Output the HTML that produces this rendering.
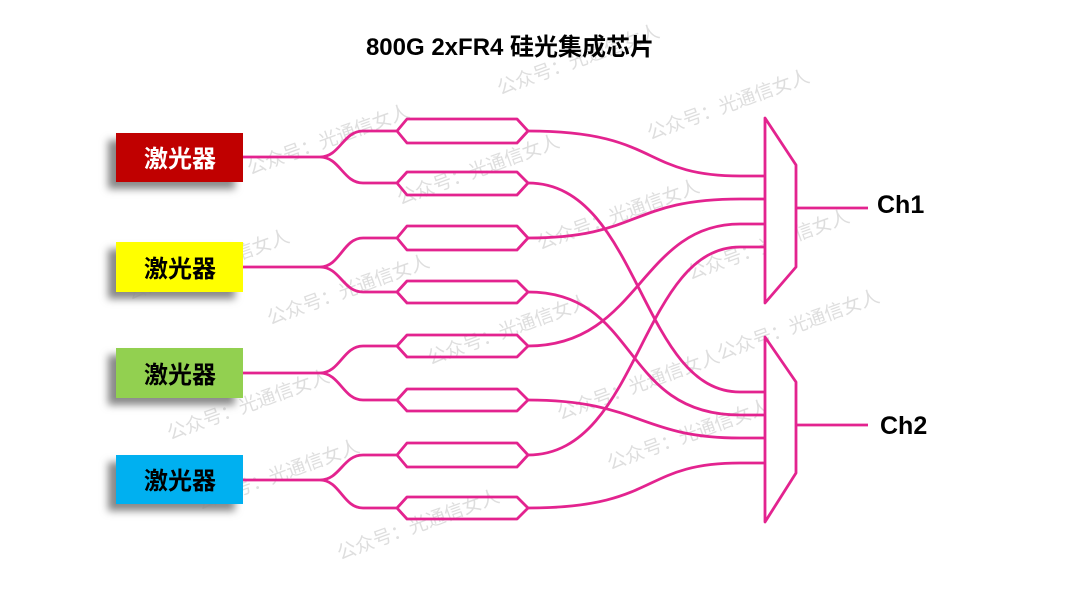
<!DOCTYPE html>
<html><head><meta charset="utf-8"><style>
html,body{margin:0;padding:0;background:#fff;}
svg{display:block;}
</style></head><body>
<svg width="1080" height="608" viewBox="0 0 1080 608" xmlns="http://www.w3.org/2000/svg">
<defs>
<filter id="sh" x="-30%" y="-30%" width="160%" height="180%"><feGaussianBlur stdDeviation="4"/></filter>
</defs>
<rect width="1080" height="608" fill="#fff"/>
<g font-family="Liberation Sans, Noto Sans CJK SC, sans-serif" font-size="19" fill="#dedede">
<text transform="translate(250,175) rotate(-20)">公众号：光通信女人</text>
<text transform="translate(400,205) rotate(-20)">公众号：光通信女人</text>
<text transform="translate(500,95) rotate(-20)">公众号：光通信女人</text>
<text transform="translate(650,140) rotate(-20)">公众号：光通信女人</text>
<text transform="translate(130,300) rotate(-20)">公众号：光通信女人</text>
<text transform="translate(270,325) rotate(-20)">公众号：光通信女人</text>
<text transform="translate(540,250) rotate(-20)">公众号：光通信女人</text>
<text transform="translate(690,280) rotate(-20)">公众号：光通信女人</text>
<text transform="translate(430,365) rotate(-20)">公众号：光通信女人</text>
<text transform="translate(720,360) rotate(-20)">公众号：光通信女人</text>
<text transform="translate(170,440) rotate(-20)">公众号：光通信女人</text>
<text transform="translate(560,420) rotate(-20)">公众号：光通信女人</text>
<text transform="translate(200,510) rotate(-20)">公众号：光通信女人</text>
<text transform="translate(610,470) rotate(-20)">公众号：光通信女人</text>
<text transform="translate(340,560) rotate(-20)">公众号：光通信女人</text>
</g>
<text x="510" y="55" text-anchor="middle" font-family="Liberation Sans, Noto Sans CJK SC, sans-serif" font-size="24" font-weight="bold" fill="#000">800G 2xFR4 硅光集成芯片</text>

<g>
<rect x="108" y="140" width="127" height="49" fill="#888" filter="url(#sh)"/>
<rect x="116" y="133" width="127" height="49" fill="#c00000"/>
<text x="180" y="167" text-anchor="middle" font-family="Noto Sans CJK SC, sans-serif" font-size="24" font-weight="bold" fill="#fff">激光器</text>
<rect x="108" y="249" width="127" height="50" fill="#888" filter="url(#sh)"/>
<rect x="116" y="242" width="127" height="50" fill="#ffff00"/>
<text x="180" y="277" text-anchor="middle" font-family="Noto Sans CJK SC, sans-serif" font-size="24" font-weight="bold" fill="#000">激光器</text>
<rect x="108" y="355" width="127" height="50" fill="#888" filter="url(#sh)"/>
<rect x="116" y="348" width="127" height="50" fill="#92d050"/>
<text x="180" y="383" text-anchor="middle" font-family="Noto Sans CJK SC, sans-serif" font-size="24" font-weight="bold" fill="#000">激光器</text>
<rect x="108" y="462" width="127" height="49" fill="#888" filter="url(#sh)"/>
<rect x="116" y="455" width="127" height="49" fill="#00b0f0"/>
<text x="180" y="489" text-anchor="middle" font-family="Noto Sans CJK SC, sans-serif" font-size="24" font-weight="bold" fill="#000">激光器</text>
</g>

<g fill="none" stroke="#e3238f" stroke-width="2.8" stroke-linejoin="round">
<path d="M243 157 H320 C340 157 343 131 363 131 M320 157 C340 157 343 183 363 183"/>
<path d="M243 267 H320 C340 267 343 238 363 238 M320 267 C340 267 343 292 363 292"/>
<path d="M243 373 H320 C340 373 343 346 363 346 M320 373 C340 373 343 400 363 400"/>
<path d="M243 480 H320 C340 480 343 455 363 455 M320 480 C340 480 343 508 363 508"/>
<path d="M363 131 H397 L407 119 H517 L528 131 M397 131 L407 143 H517 L528 131"/>
<path d="M363 183 H397 L407 172 H517 L528 183 M397 183 L407 195 H517 L528 183"/>
<path d="M363 238 H397 L407 226 H517 L528 238 M397 238 L407 250 H517 L528 238"/>
<path d="M363 292 H397 L407 281 H517 L528 292 M397 292 L407 303 H517 L528 292"/>
<path d="M363 346 H397 L407 335 H517 L528 346 M397 346 L407 357 H517 L528 346"/>
<path d="M363 400 H397 L407 389 H517 L528 400 M397 400 L407 411 H517 L528 400"/>
<path d="M363 455 H397 L407 443 H517 L528 455 M397 455 L407 467 H517 L528 455"/>
<path d="M363 508 H397 L407 497 H517 L528 508 M397 508 L407 519 H517 L528 508"/>
<path d="M528 131 C660 131 640 176 740 176 H765"/>
<path d="M528 183 C640 183 640 392 740 392 H765"/>
<path d="M528 238 C640 238 630 199 740 199 H765"/>
<path d="M528 292 C640 292 620 415 740 415 H765"/>
<path d="M528 346 C640 346 640 224 740 224 H765"/>
<path d="M528 400 C640 400 640 438 740 438 H765"/>
<path d="M528 455 C640 455 640 247 740 247 H765"/>
<path d="M528 508 C660 508 640 463 740 463 H765"/>
<path d="M765 118 L796 165 V267 L765 303 Z" fill="#fff"/>
<path d="M765 337 L796 382 V473 L765 522 Z" fill="#fff"/>
<path d="M796 208 H868 M796 425 H868"/>
</g>
<text x="877" y="213" font-family="Liberation Sans, sans-serif" font-size="25" font-weight="bold" fill="#000">Ch1</text>
<text x="880" y="434" font-family="Liberation Sans, sans-serif" font-size="25" font-weight="bold" fill="#000">Ch2</text>
</svg>
</body></html>
